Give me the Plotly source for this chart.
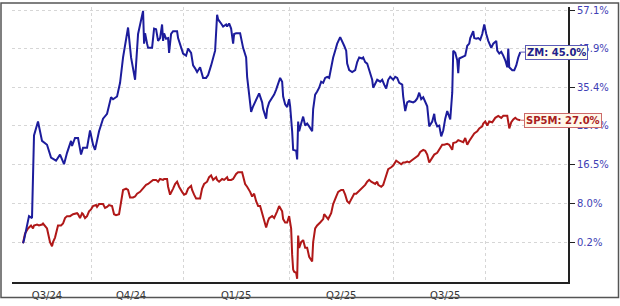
import math
import plotly.graph_objects as go

# ---- data (returns in %, x = trading-session index since start) ----
zm_days = [0, 1, 6, 9, 11, 15, 19, 24, 28, 33, 37, 41, 44, 48, 49, 52, 55, 58, 60, 64, 67, 70, 72, 76, 80, 84, 88, 90, 94, 97,
           100, 104, 105, 108, 112, 115, 119, 120, 121, 122, 124, 125, 129, 131, 133, 135, 137, 139, 140, 141, 143, 145, 146, 148, 150,
           154, 155, 157, 160, 163, 165, 168, 170, 172, 174, 177, 179, 180, 183, 185, 188, 190, 192, 194, 195, 198, 200, 203, 204, 206,
           208, 210, 211, 213, 217, 220, 223, 224, 226, 228, 230, 234, 236, 239, 240, 243, 244, 246, 249, 251, 253, 255, 257, 259, 260,
           262, 264, 266, 267, 269, 270, 273, 274, 275, 276, 278, 280, 282, 284, 286, 289, 290, 292, 294, 296, 298, 300, 302, 304, 306,
           308, 310, 312, 314, 317, 319, 321, 323, 324, 326, 329, 332, 334, 336, 339, 340, 342, 344, 346, 348, 349, 350, 352, 354, 357,
           359, 361, 363, 365, 367, 370, 372, 374, 376, 379, 380, 382, 384, 386, 390, 392, 394, 396, 398, 400, 402, 404, 406, 409, 411,
           412, 414, 416, 418, 420, 422, 424, 427, 429, 430, 432, 434, 435, 436, 439, 442, 444, 446, 447, 450, 451, 453, 455, 457, 459,
           461, 463, 465, 468, 470, 473, 474, 476, 478, 480, 482, 484, 485, 486, 489, 491, 493, 495, 497]
zm_pct = [0.0, 0.6, 5.4, 5.0, 23.3, 26.7, 22.0, 21.1, 18.1, 17.4, 18.8, 16.6, 19.2, 22.0, 20.8, 22.7, 22.7, 18.8, 20.4, 20.4,
          24.5, 21.1, 19.9, 24.3, 27.4, 28.6, 32.8, 32.3, 33.0, 36.6, 43.5, 51.0, 52.1, 43.5, 37.4, 50.2, 55.9, 57.1, 47.4, 50.4,
          47.4, 46.2, 46.2, 51.8, 51.6, 48.2, 49.0, 53.0, 48.2, 50.4, 48.8, 49.0, 44.8, 50.2, 51.0, 51.0, 49.0, 47.4, 44.6, 44.0,
          46.0, 44.8, 41.3, 40.5, 39.5, 40.8, 39.2, 37.9, 37.9, 38.7, 41.3, 43.5, 45.4, 55.9, 54.5, 53.3, 52.4, 53.0, 52.4, 53.3,
          51.8, 47.4, 50.2, 50.4, 50.4, 46.2, 43.5, 38.2, 33.0, 29.1, 30.5, 33.0, 33.8, 31.5, 29.8, 27.4, 29.8, 31.5, 32.8, 33.5,
          34.8, 36.1, 37.9, 36.9, 33.0, 31.0, 30.3, 32.3, 30.5, 24.3, 19.9, 19.7, 17.7, 26.7, 24.3, 26.2, 27.9, 25.7, 26.2, 25.5,
          24.3, 29.8, 33.5, 34.3, 35.3, 36.9, 36.6, 37.9, 38.2, 37.9, 40.8, 43.5, 45.4, 47.4, 49.3, 48.2, 46.8, 45.4, 41.8, 40.0,
          39.5, 40.0, 42.2, 43.5, 43.2, 43.5, 42.2, 41.8, 40.0, 38.7, 37.4, 35.3, 36.6, 37.4, 36.9, 37.4, 36.1, 35.1, 37.4, 38.2,
          37.4, 38.2, 37.9, 36.6, 36.1, 33.0, 29.3, 31.5, 31.8, 31.5, 31.8, 32.5, 34.0, 32.3, 32.8, 31.5, 30.5, 25.5, 26.7, 28.6,
          26.7, 25.5, 25.7, 23.1, 24.5, 27.4, 29.3, 27.2, 34.0, 45.4, 44.8, 42.7, 39.2, 43.2, 43.5, 44.0, 46.8, 47.4, 49.0, 51.0,
          49.0, 48.8, 49.0, 48.5, 50.2, 53.0, 50.2, 48.2, 46.2, 47.4, 48.2, 45.4, 44.6, 45.1, 44.0, 42.7, 40.8, 46.0, 40.8, 40.0,
          40.0, 41.3, 43.5, 45.0]

sp_days = [0, 2, 5, 8, 10, 11, 14, 16, 19, 20, 24, 25, 27, 29, 30, 32, 34, 35, 38, 40, 42, 44, 47, 50, 54, 55, 57, 59, 60, 62,
           64, 66, 68, 70, 73, 74, 76, 80, 82, 84, 86, 89, 91, 93, 96, 98, 100, 103, 105, 107, 110, 112, 114, 117, 120, 123, 125, 128, 130, 133,
           135, 137, 140, 141, 144, 145, 147, 150, 152, 154, 156, 159, 161, 163, 165, 168, 169, 171, 173, 177, 179, 181, 184, 186, 188,
           190, 191, 193, 194, 196, 199, 201, 204, 205, 208, 210, 213, 215, 219, 220, 222, 224, 226, 227, 229, 231, 233, 235, 237, 240,
           242, 243, 245, 246, 249, 251, 254, 256, 259, 260, 262, 264, 266, 268, 269, 270, 271, 273, 274, 275, 276, 278, 280, 282, 284,
           286, 289, 290, 292, 294, 297, 300, 301, 303, 305, 308, 310, 313, 315, 318, 320, 322, 324, 326, 329, 331, 333, 335, 338, 340,
           342, 344, 346, 348, 350, 352, 354, 355, 358, 360, 361, 363, 365, 368, 370, 373, 375, 378, 380, 382, 384, 386, 388, 390, 393,
           395, 397, 400, 402, 404, 406, 409, 411, 414, 416, 419, 421, 424, 426, 429, 430, 433, 435, 438, 440, 442, 444, 446, 449, 451,
           454, 456, 459, 460, 462, 464, 466, 469, 472, 475, 478, 480, 482, 484, 486, 488, 490, 492, 494, 497]
sp_pct = [0.0, 1.9, 2.9, 3.5, 2.9, 3.5, 3.7, 3.5, 3.7, 3.9, 2.9, 1.9, 0.2, -0.6, 0.2, 1.1, 2.9, 3.5, 3.5, 3.9,
          5.0, 5.4, 5.4, 5.8, 6.0, 5.8, 5.0, 6.0, 5.8, 5.0, 5.4, 6.4, 6.8, 7.5, 7.7, 7.3, 7.9, 7.9, 7.1, 7.3,
          7.7, 7.5, 5.8, 5.6, 5.8, 8.9, 10.9, 11.2, 10.9, 9.3, 9.3, 9.5, 10.1, 10.5, 11.2, 12.0, 12.2, 12.7, 13.1, 13.1,
          12.7, 13.3, 13.1, 13.3, 13.3, 11.6, 9.9, 11.2, 12.2, 12.7, 11.6, 10.5, 9.9, 10.1, 11.2, 11.8, 10.9, 9.9, 9.1, 9.1,
          11.2, 12.2, 12.7, 13.7, 14.1, 13.1, 13.3, 13.7, 13.1, 12.7, 13.3, 13.1, 13.7, 13.1, 13.1, 13.3, 14.4, 14.8, 14.8, 13.7,
          12.2, 11.6, 10.9, 10.5, 9.5, 10.1, 8.5, 7.5, 7.5, 5.4, 4.1, 3.1, 4.5, 5.0, 5.4, 5.0, 6.4, 7.5, 6.4, 4.8,
          4.1, 4.1, 5.4, 2.9, -2.2, -5.0, -5.4, -5.6, -6.7, 1.5, -0.9, 0.2, 0.6, -0.9, -0.9, -2.6, -3.5, 0.2, 2.9, 3.5,
          4.1, 4.8, 5.8, 5.4, 4.8, 6.0, 7.9, 9.5, 10.5, 10.9, 10.9, 9.9, 8.5, 8.1, 9.5, 10.1, 10.1, 10.5, 11.2, 11.6,
          12.0, 12.7, 13.1, 12.7, 12.5, 12.2, 12.7, 12.0, 11.6, 12.0, 12.7, 14.1, 15.5, 15.9, 16.3, 17.4, 17.0, 16.6, 17.0, 17.0,
          17.2, 17.0, 17.4, 17.7, 18.3, 18.6, 19.4, 19.9, 19.7, 18.8, 17.0, 18.1, 18.8, 19.2, 19.9, 21.1, 21.1, 21.3, 21.1, 19.9,
          21.5, 21.7, 22.2, 22.0, 21.7, 22.7, 21.1, 22.0, 23.1, 23.8, 24.3, 25.0, 25.5, 26.2, 26.7, 25.7, 26.7, 26.5, 27.6, 28.1,
          27.6, 28.1, 28.1, 28.1, 25.0, 26.5, 27.2, 27.6, 27.2, 27.0]

quarter_labels = ["Q3/24", "Q4/24", "Q1/25", "Q2/25", "Q3/25"]
quarter_label_days = [24, 108, 213, 318, 422]
quarter_grid_days = [68, 160, 266, 370, 462]
y_tick_pct = [0.2, 8.0, 16.5, 25.6, 35.4, 45.9, 57.1]

ZM_COLOR = "#1c1c9c"
SP_COLOR = "#b01818"

zm_y = [1 + v / 100 for v in zm_pct]
sp_y = [1 + v / 100 for v in sp_pct]

fig = go.Figure()
fig.add_trace(go.Scatter(x=sp_days, y=sp_y, mode="lines", name="SP5M",
                         line=dict(color=SP_COLOR, width=2), hoverinfo="skip"))
fig.add_trace(go.Scatter(x=zm_days, y=zm_y, mode="lines", name="ZM",
                         line=dict(color=ZM_COLOR, width=2), hoverinfo="skip"))

W, H = 620, 306
ml, mr, mt, mb = 12, 52, 5, 18
pw, ph = W - ml - mr, H - mt - mb

fig.update_layout(
    width=W, height=H,
    margin=dict(l=ml, r=mr, t=mt, b=mb, pad=0),
    paper_bgcolor="white", plot_bgcolor="white",
    showlegend=False,
    font=dict(family="DejaVu Sans", size=10),
    xaxis=dict(
        range=[-11, 544.7], showline=True, linecolor="#222222", linewidth=2,
        tickmode="array", tickvals=quarter_label_days, ticktext=quarter_labels,
        ticks="", showgrid=False, zeroline=False, ticklabelstandoff=3,
        tickfont=dict(size=10, color="#333333", family="DejaVu Sans"),
        minor=dict(tickmode="array", tickvals=quarter_grid_days, showgrid=True,
                   gridcolor="#d6d6d6", griddash="dot", gridwidth=1, ticks=""),
    ),
    yaxis=dict(
        type="log", side="right", range=[-0.032776, 0.19945],
        tickmode="array", tickvals=[1 + v / 100 for v in y_tick_pct],
        ticktext=[f"{v:.1f}%" for v in y_tick_pct],
        showline=True, linecolor="#222222", linewidth=2,
        ticks="outside", ticklen=5, tickcolor="#222222", tickwidth=1,
        showgrid=True, gridcolor="#d6d6d6", griddash="dot", gridwidth=1,
        zeroline=False,
        tickfont=dict(size=10, color="#4040b4", family="DejaVu Sans"),
    ),
)

# outer frame
fig.add_shape(type="rect", xref="paper", yref="paper",
              x0=(1 - ml) / pw, x1=(618.5 - ml) / pw,
              y0=(mt + ph - 304) / ph, y1=(mt + ph - 1) / ph,
              line=dict(color="#555555", width=1.5), fillcolor="rgba(0,0,0,0)")

# end labels (annotation y on a log axis is given in log10 units)
fig.add_annotation(x=zm_days[-1], y=math.log10(zm_y[-1]), text=f"<b>ZM: {zm_pct[-1]:.1f}%</b>",
                   showarrow=True, arrowhead=0, arrowwidth=1, arrowcolor="#5a5ab8",
                   ax=5, ay=0, xanchor="left", standoff=0,
                   bgcolor="#fffff0", bordercolor="#5a5ab8", borderwidth=1, borderpad=1,
                   font=dict(size=10, color="#22228a", family="DejaVu Sans"))
fig.add_annotation(x=sp_days[-1], y=math.log10(sp_y[-1]), text=f"<b>SP5M: {sp_pct[-1]:.1f}%</b>",
                   showarrow=True, arrowhead=0, arrowwidth=1, arrowcolor="#cc6a6a",
                   ax=4, ay=0, xanchor="left", standoff=0,
                   bgcolor="#fff8ea", bordercolor="#cc6a6a", borderwidth=1, borderpad=1,
                   font=dict(size=10, color="#a82020", family="DejaVu Sans"))

fig.write_html("out.html")
